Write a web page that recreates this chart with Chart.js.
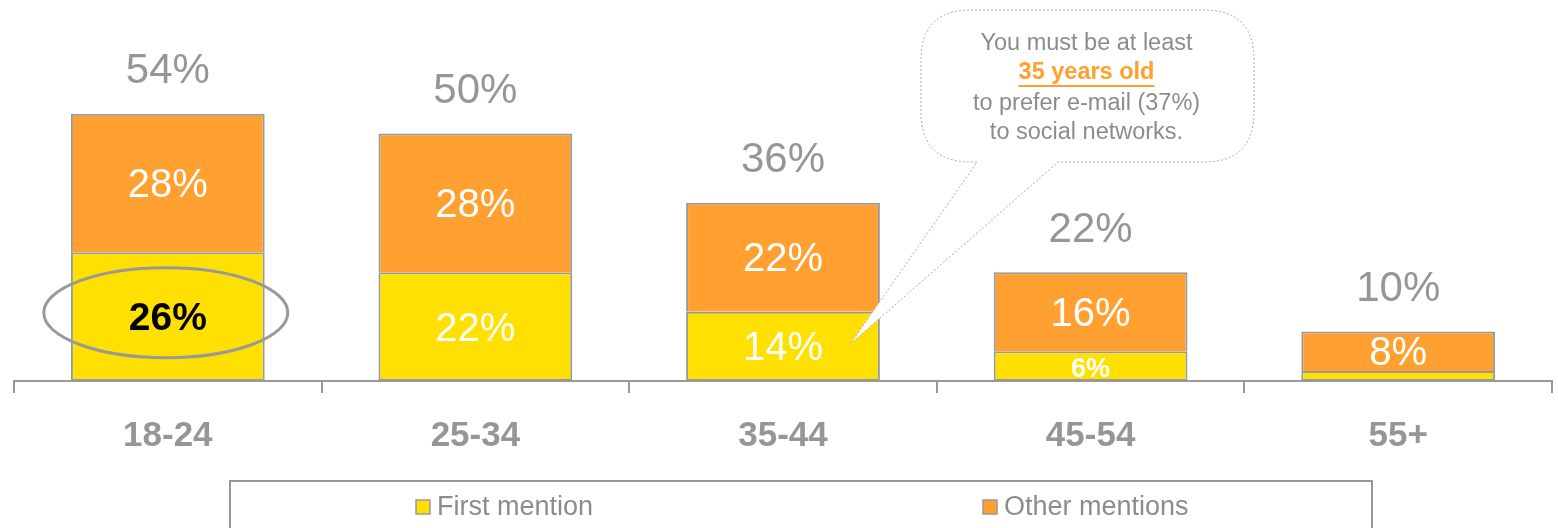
<!DOCTYPE html>
<html lang="en">

<head>
    <meta charset="UTF-8">
    <title>Preferred channel by age</title>
    <script src="https://cdn.jsdelivr.net/npm/chart.js"></script>
    <style>
        body { margin: 0; background: #fff; }
        #box { width: 1558px; height: 528px; position: relative; }
    </style>
</head>

<body>
    <div id="box">
        <canvas id="grafico"></canvas>
    </div>

<script>

    const ageGroups = ['18-24', '25-34', '35-44', '45-54', '55+'];
    const firstMention = [26, 22, 14, 6, 2];
    const otherMentions = [28, 28, 22, 16, 8];
    const seriesNames = ['First mention', 'Other mentions'];
    const seriesColors = ['#FFE000', '#FFA030'];

    const gray = '#969696';
    const fontFam = '"Liberation Sans", Arial, sans-serif';

    // value labels inside the segments and totals above each column
    const labelPlugin = {
        id: 'labels',
        afterDatasetsDraw(chart) {
            const ctx = chart.ctx;
            const first = chart.getDatasetMeta(0).data;
            const other = chart.getDatasetMeta(1).data;
            ctx.save();
            ctx.textAlign = 'center';
            ctx.textBaseline = 'middle';

            first.forEach((bar, i) => {
                const v = firstMention[i];
                if (v < 5) return;
                const cy = (bar.y + bar.base) / 2 + 3;
                if (i == 0) {
                    ctx.fillStyle = '#000';
                    ctx.font = 'bold 39px ' + fontFam;
                } else if (v < 10) {
                    ctx.fillStyle = '#fff';
                    ctx.font = 'bold 27px ' + fontFam;
                } else {
                    ctx.fillStyle = '#fff';
                    ctx.font = '40px ' + fontFam;
                }
                ctx.fillText(v + '%', bar.x, cy);
            });

            other.forEach((bar, i) => {
                const cy = (bar.y + bar.base) / 2 + 3;
                ctx.fillStyle = '#fff';
                ctx.font = '40px ' + fontFam;
                ctx.fillText(otherMentions[i] + '%', bar.x, cy);

                const total = firstMention[i] + otherMentions[i];
                ctx.fillStyle = gray;
                ctx.font = '42px ' + fontFam;
                ctx.fillText(total + '%', bar.x, bar.y - 42);
            });

            // ring around the youngest group's first mention
            const b0 = first[0];
            ctx.strokeStyle = '#999';
            ctx.lineWidth = 3;
            ctx.beginPath();
            ctx.ellipse(b0.x - 2, (b0.y + b0.base) / 2 - 4, 122, 45, 0, 0, Math.PI * 2);
            ctx.stroke();

            // speech bubble pointing at the 35-44 first mention
            const b2 = first[2];
            const tipX = b2.x + 67;
            const tipY = (b2.y + b2.base) / 2 - 2;
            const bx = 921, by = 10, bw = 333, bh = 152, r = 50;
            ctx.beginPath();
            ctx.moveTo(bx + r, by);
            ctx.lineTo(bx + bw - r, by);
            ctx.quadraticCurveTo(bx + bw, by, bx + bw, by + r);
            ctx.lineTo(bx + bw, by + bh - r);
            ctx.quadraticCurveTo(bx + bw, by + bh, bx + bw - r, by + bh);
            ctx.lineTo(1058, by + bh);
            ctx.lineTo(tipX, tipY);
            ctx.lineTo(977, by + bh);
            ctx.lineTo(bx + r, by + bh);
            ctx.quadraticCurveTo(bx, by + bh, bx, by + bh - r);
            ctx.lineTo(bx, by + r);
            ctx.quadraticCurveTo(bx, by, bx + r, by);
            ctx.closePath();
            ctx.fillStyle = '#fff';
            ctx.fill();
            ctx.setLineDash([2, 2]);
            ctx.strokeStyle = '#aaa';
            ctx.lineWidth = 1;
            ctx.stroke();
            ctx.setLineDash([]);

            const cx = bx + bw / 2 - 1;
            ctx.font = '23.5px ' + fontFam;
            ctx.fillStyle = '#8c8c8c';
            ctx.fillText('You must be at least', cx, 44);
            ctx.fillText('to prefer e-mail (37%)', cx, 104);
            ctx.fillText('to social networks.', cx, 133);
            ctx.font = 'bold 23.5px ' + fontFam;
            ctx.fillStyle = '#FFA030';
            ctx.fillText('35 years old', cx, 73);
            const w = ctx.measureText('35 years old').width;
            ctx.fillRect(cx - w / 2, 85, w, 2);

            ctx.restore();
        }
    };

    // framed legend under the axis
    const legendBox = {
        id: 'legendBox',
        afterDraw(chart) {
            const ctx = chart.ctx;
            ctx.save();
            ctx.strokeStyle = '#999';
            ctx.lineWidth = 2;
            ctx.strokeRect(230, 481, 1142, 80);

            const pos = [416, 983];
            ctx.font = '27px ' + fontFam;
            ctx.textBaseline = 'middle';
            ctx.textAlign = 'left';
            seriesNames.forEach((name, i) => {
                ctx.fillStyle = seriesColors[i];
                ctx.fillRect(pos[i], 500, 14, 14);
                ctx.strokeStyle = '#999';
                ctx.lineWidth = 1.5;
                ctx.strokeRect(pos[i], 500, 14, 14);
                ctx.fillStyle = '#8c8c8c';
                ctx.fillText(name, pos[i] + 21, 508);
            });
            ctx.restore();
        }
    };

    const data = {
        labels: ageGroups,
        datasets: [
            {
                label: seriesNames[0],
                data: firstMention,
                backgroundColor: seriesColors[0],
                borderColor: '#999',
                borderWidth: 2,
                borderSkipped: false,
                barPercentage: 0.63,
                categoryPercentage: 1
            },
            {
                label: seriesNames[1],
                data: otherMentions,
                backgroundColor: seriesColors[1],
                borderColor: '#999',
                borderWidth: 2,
                borderSkipped: 'bottom',
                barPercentage: 0.63,
                categoryPercentage: 1
            }
        ]
    };

    const options = {
        responsive: true,
        maintainAspectRatio: false,
        animation: false,
        layout: { padding: { left: 14, right: 6, top: 0, bottom: 0 } },
        plugins: {
            legend: { display: false },
            tooltip: { enabled: false }
        },
        scales: {
            x: {
                stacked: true,
                afterFit: (s) => { s.height = 147; },
                grid: {
                    offset: true,
                    drawOnChartArea: false,
                    tickLength: 12,
                    color: '#999',
                    lineWidth: 2
                },
                border: { color: '#999', width: 2 },
                ticks: {
                    color: gray,
                    padding: 22,
                    font: { family: fontFam, size: 35, weight: 'bold' }
                }
            },
            y: {
                stacked: true,
                display: false,
                min: 0,
                max: 77
            }
        }
    };

    let ctx = document.getElementById('grafico').getContext('2d');

    let grafico = new Chart(ctx, {
        type: 'bar',
        data: data,
        options: options,
        plugins: [labelPlugin, legendBox]
    });

</script>
</body>

</html>
